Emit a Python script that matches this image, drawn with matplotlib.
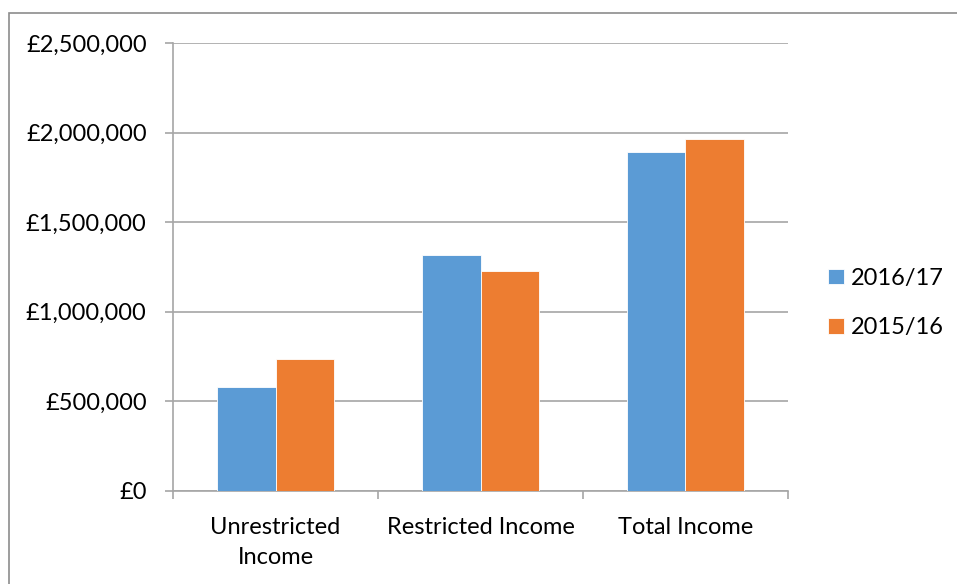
import matplotlib
matplotlib.use('Agg')
from matplotlib import pyplot as plt
from matplotlib.patches import Rectangle
from matplotlib.ticker import FuncFormatter, FixedLocator
import numpy as np

categories = ['Unrestricted\nIncome', 'Restricted Income', 'Total Income']
series_names = ['2016/17', '2015/16']
income_1617 = [581000, 1315000, 1894000]
income_1516 = [737000, 1229000, 1966000]
colors = ['#5B9BD5', '#ED7D31']

plt.rcParams['font.family'] = ['Lato', 'DejaVu Sans']

fig = plt.figure(figsize=(9.57, 5.84), dpi=100)
ax = fig.add_axes([0.1808, 0.1598, 0.8234 - 0.1808, 0.9259 - 0.1598])

x = np.arange(len(categories))
w = 0.285
b1 = ax.bar(x - w / 2, income_1617, w, color=colors[0], edgecolor='white', linewidth=0.6, zorder=3)
b2 = ax.bar(x + w / 2, income_1516, w, color=colors[1], edgecolor='white', linewidth=0.6, zorder=3)

ax.set_xlim(-0.5, len(categories) - 0.5)
ax.set_ylim(0, 2500000)
ax.set_yticks(np.arange(0, 2500001, 500000))
ax.yaxis.set_major_formatter(FuncFormatter(lambda v, p: '£{:,.0f}'.format(v)))
ax.grid(axis='y', color='#a6a6a6', linewidth=1.2, zorder=0)

ax.set_xticks(x)
ax.set_xticklabels(categories, fontsize=17, linespacing=1.55)
ax.xaxis.set_minor_locator(FixedLocator(np.arange(-0.5, len(categories), 1)))
ax.tick_params(axis='x', which='major', length=0, pad=19)
ax.tick_params(axis='x', which='minor', length=6, color='#a6a6a6', width=1.2)
ax.tick_params(axis='y', length=6, color='#a6a6a6', width=1.2, pad=13, labelsize=17)

for s in ['top', 'right']:
    ax.spines[s].set_visible(False)
ax.spines['left'].set_color('#a6a6a6')
ax.spines['bottom'].set_color('#a6a6a6')
ax.spines['left'].set_linewidth(1.2)
ax.spines['bottom'].set_linewidth(1.2)

fig.legend([b1, b2], series_names, loc='center left', bbox_to_anchor=(807 / 957, 1 - 303 / 584),
           frameon=False, fontsize=17, handlelength=0.65, handleheight=0.65,
           handletextpad=0.3, labelspacing=1.2)

fig.patches.append(Rectangle((9 / 957, -0.1), 1.2, 1 - 13 / 584 + 0.1, transform=fig.transFigure,
                             fill=False, edgecolor='#8c8c8c', linewidth=1.2))

fig.savefig('out.png', dpi=100)
